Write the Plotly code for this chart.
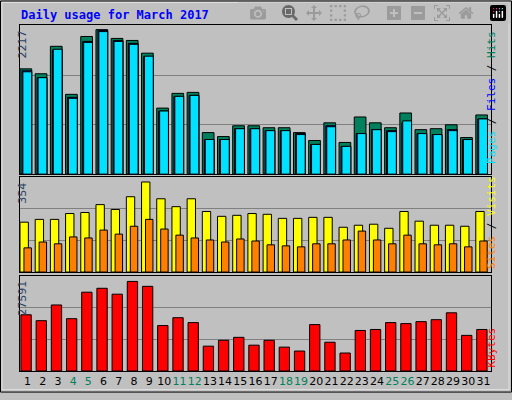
import plotly.graph_objects as go

days = list(range(1, 32))
weekends = {4, 5, 11, 12, 18, 19, 25, 26}
hits = [1615,1540,1961,1224,2112,2217,2082,2051,1856,1013,1239,1254,637,576,742,742,712,712,637,516,787,486,877,787,712,938,682,697,757,561,908]
files = [1585,1480,1906,1178,2036,2202,2051,2006,1800,968,1193,1208,531,531,697,697,667,667,622,456,742,426,622,682,667,787,622,607,682,531,847]
pages = [1570,1480,1916,1163,2021,2187,2036,1991,1810,968,1193,1208,531,531,697,697,667,667,607,456,727,426,622,682,652,817,622,607,667,531,847]
visits = [196,207,207,230,234,265,246,296,354,288,257,288,238,219,223,230,227,211,211,215,215,176,184,188,172,238,200,184,184,180,238]
sites = [95,118,111,138,134,165,149,180,207,169,145,134,126,118,130,122,107,103,99,111,111,126,161,126,111,145,111,107,111,99,122]
kbytes = [17320,15508,20341,16112,24269,25477,23665,27591,26081,13997,16414,14904,7653,9466,10372,7955,9466,7351,6143,14299,8862,5539,12487,12789,14904,14602,15206,15810,17925,10976,12789]
tick_labels = [f'<span style="color:{"#00805c" if d in weekends else "black"}">{d}</span>' for d in days]

fig = go.Figure()
ln = dict(color="black", width=1)
def bar(y, color, off, w, ya, xa):
    fig.add_trace(go.Bar(x=days, y=y, marker=dict(color=color, line=ln), offset=off, width=w,
                         xaxis=xa, yaxis=ya, showlegend=False, hoverinfo="skip"))
bar(hits, "#00805c", -0.5, 0.77, "y", "x")
bar(files, "#0000ff", -0.37, 0.64, "y", "x")
bar(pages, "#00e0ff", -0.31, 0.58, "y", "x")
bar(visits, "#ffff00", -0.5, 0.55, "y2", "x2")
bar(sites, "#ff8000", -0.24, 0.49, "y2", "x2")
bar(kbytes, "#ff0000", -0.44, 0.68, "y3", "x3")

def yax(dom, mx):
    return dict(domain=dom, range=[0, mx], tickvals=[mx*0.33, mx*0.664], showticklabels=False,
                gridcolor="#808080", gridwidth=1, zeroline=False, showline=True, linecolor="black",
                mirror=True, fixedrange=True)
def xax(anchor, labels):
    d = dict(range=[0.5, 31.5], anchor=anchor, showgrid=False, zeroline=False, showline=True,
             linecolor="black", mirror=True, tickmode="array", tickvals=days, ticks="", tickangle=0)
    if labels:
        d.update(ticktext=tick_labels, tickfont=dict(family="DejaVu Sans", size=11, color="black"))
    else:
        d.update(showticklabels=False)
    return d

fig.update_layout(
    width=512, height=400, margin=dict(l=20, r=21, t=25, b=22),
    paper_bgcolor="#c0c0c0", plot_bgcolor="#c0c0c0", barmode="overlay",
    xaxis=xax("y", False), xaxis2=xax("y2", False), xaxis3=xax("y3", True),
    yaxis=yax([0.569, 1], 2288), yaxis2=yax([0.286, 0.561], 374), yaxis3=yax([0, 0.275], 29310),
)

def py(ypx):
    return (378 - ypx) / 353
def px(xpx):
    return (xpx - 20) / 471
mono = "DejaVu Sans Mono"
anns = [
    dict(text="<b>Daily usage for March 2017</b>", x=px(19), y=py(15), xanchor="left", yanchor="middle",
         font=dict(family=mono, size=12, color="#0000ff")),
    dict(text="2217", x=px(14), y=py(29), yanchor="top", font=dict(family="DejaVu Sans", size=11), textangle=-90),
    dict(text="354", x=px(14), y=py(184), yanchor="top", font=dict(family="DejaVu Sans", size=11), textangle=-90),
    dict(text="27591", x=px(14), y=py(284), yanchor="top", font=dict(family="DejaVu Sans", size=11), textangle=-90),
    dict(text='<span style="color:#00e0ff">Pages</span> / <span style="color:#0000ff">Files</span> / <span style="color:#00805c">Hits</span>',
         x=px(500), y=py(29), yanchor="top", font=dict(family=mono, size=11, color="black"), textangle=-90),
    dict(text='<span style="color:#ff8000">Sites</span> / <span style="color:#ffff00">Visits</span>',
         x=px(500), y=py(276), yanchor="bottom", font=dict(family=mono, size=11, color="black"), textangle=-90),
    dict(text='<span style="color:#ff0000">KBytes</span>',
         x=px(500), y=py(377), yanchor="bottom", font=dict(family=mono, size=11), textangle=-90),
]
for a in anns:
    a.update(xref="paper", yref="paper", showarrow=False)
fig.update_layout(annotations=anns)
fig.add_shape(type="rect", xref="paper", yref="paper", x0=px(0.5), x1=px(511.5), y0=py(399.5), y1=py(0.5),
              line=dict(color="black", width=1))
fig.add_shape(type="rect", xref="paper", yref="paper", x0=px(2), x1=px(509), y0=py(397), y1=py(2),
              line=dict(color="#e0e0e0", width=1))
fig.write_html("out.html", post_script="document.body.style.margin='0';")
